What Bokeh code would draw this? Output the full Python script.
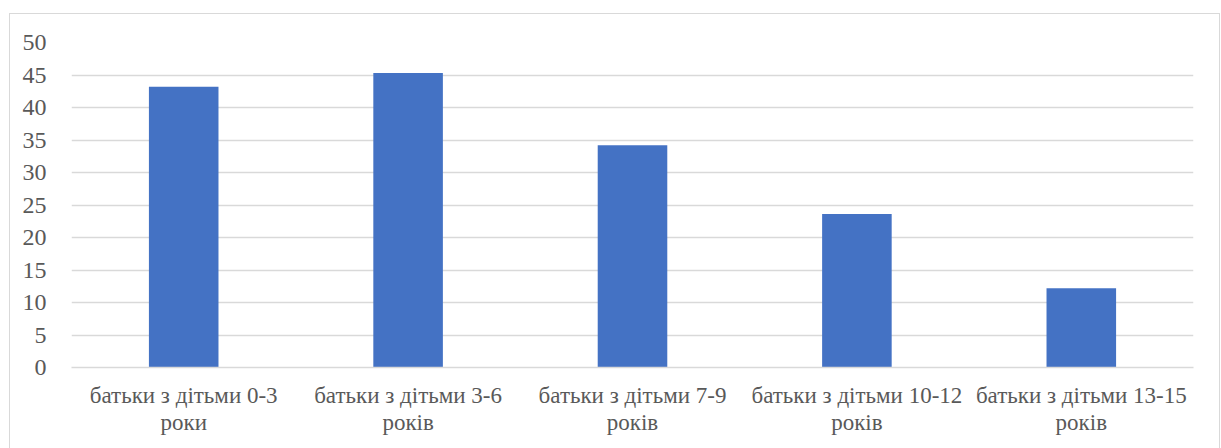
from bokeh.plotting import figure
from bokeh.models import FactorRange, Range1d, SingleIntervalTicker, ColumnDataSource
from bokeh.embed import file_html
from bokeh.resources import INLINE

categories = ["батьки з дітьми 0-3\nроки", "батьки з дітьми 3-6\nроків", "батьки з дітьми 7-9\nроків",
              "батьки з дітьми 10-12\nроків", "батьки з дітьми 13-15\nроків"]
values = [43.2, 45.3, 34.2, 23.6, 12.2]
y_ticks = [0, 5, 10, 15, 20, 25, 30, 35, 40, 45, 50]

FONT = "'Liberation Serif', 'Times New Roman', serif"

src = ColumnDataSource(data=dict(cat=categories, val=values))

p = figure(x_range=FactorRange(*categories), y_range=Range1d(0, 50),
           width=1211, height=440, output_backend="svg", toolbar_location=None,
           min_border_left=61, min_border_right=28, min_border_top=28, min_border_bottom=87)
p.styles = {"border": "1px solid #d9d9d9", "margin-left": "9px", "margin-top": "13px"}
p.outline_line_color = None
p.background_fill_color = "white"
p.border_fill_color = "white"

p.vbar(x="cat", top="val", width=0.31, source=src, fill_color="#4472C4", line_color=None)

p.yaxis.ticker = SingleIntervalTicker(interval=5)
p.yaxis.axis_line_color = None
p.yaxis.major_tick_line_color = None
p.yaxis.minor_tick_line_color = None
p.yaxis.major_label_text_font = FONT
p.yaxis.major_label_text_font_size = "24px"
p.yaxis.major_label_text_color = "#595959"
p.yaxis.major_label_standoff = 19

p.xaxis.axis_line_color = "#d9d9d9"
p.xaxis.axis_line_width = 1.5
p.xaxis.major_tick_line_color = None
p.xaxis.minor_tick_line_color = None
p.xaxis.major_label_text_font = FONT
p.xaxis.major_label_text_font_size = "23px"
p.xaxis.major_label_text_color = "#595959"
p.xaxis.major_label_standoff = 9
p.xaxis.major_label_text_line_height = 1.1

p.xgrid.grid_line_color = None
p.ygrid.grid_line_color = "#d9d9d9"
p.ygrid.grid_line_width = 1.5

open("out.html", "w").write(file_html(p, INLINE))
